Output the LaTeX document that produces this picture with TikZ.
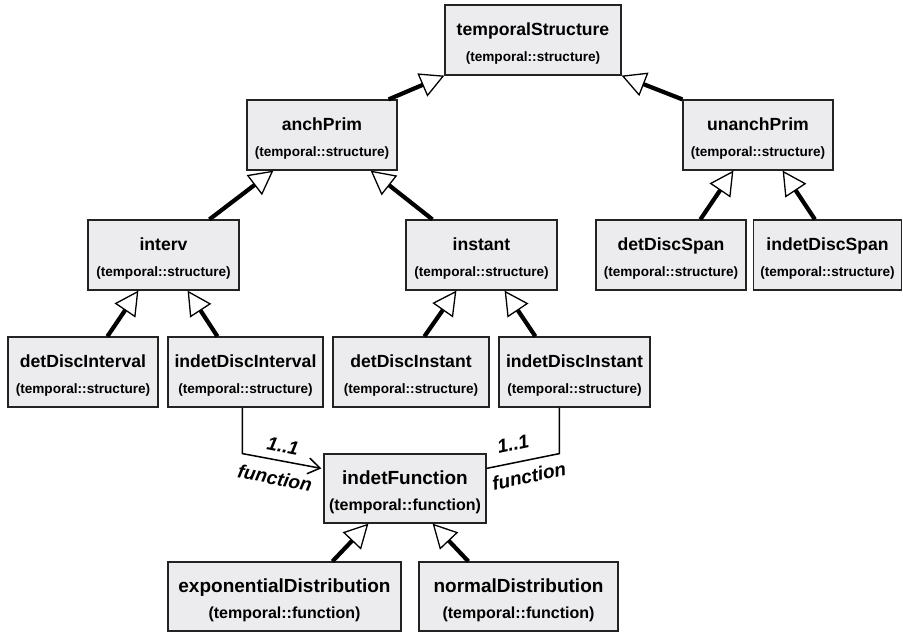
\documentclass[tikz,border=0pt]{standalone}
\usepackage{fontspec}
\setmainfont{Liberation Sans}
\usetikzlibrary{arrows.meta,calc}
\definecolor{boxfill}{RGB}{236,236,238}
\definecolor{boxline}{RGB}{35,35,35}
\newcommand{\clstext}[2]{{\fontsize{17.6}{25.5}\selectfont\rule{0pt}{20pt}#1}\\{\fontsize{13.6}{25.5}\selectfont #2}}
\newcommand{\fntext}[2]{{\fontsize{19}{26}\selectfont\rule{0pt}{21.5pt}#1}\\{\fontsize{16}{26}\selectfont #2}}
\begin{document}
\begin{tikzpicture}[x=1pt,y=-1pt,
  cls/.style={draw=boxline, fill=boxfill, line width=1.2pt, inner sep=0pt, align=center, font=\fontsize{13.6}{25.5}\selectfont\bfseries, minimum height=70pt},
  fnc/.style={cls, font=\fontsize{16}{26}\selectfont\bfseries, minimum height=69pt},
  gen/.style={draw=black, line width=4.2pt, -{Triangle[length=24pt,width=25pt,fill=white,line width=1.3pt]}},
  assoc/.style={draw=black, line width=1.5pt, line join=miter},
  assocarrow/.style={assoc, -{Straight Barb[length=12pt,width=16pt,line width=1.5pt]}},
  lbl/.style={font=\fontsize{19}{19}\selectfont\bfseries\itshape, inner sep=0pt}]
\useasboundingbox (0,0) rectangle (903,632);

% classes
\node[cls, minimum width=176pt] (ts) at (533,40) {\clstext{temporalStructure}{(temporal::structure)}};
\node[cls, minimum width=150pt] (ap) at (322,135) {\clstext{anchPrim}{(temporal::structure)}};
\node[cls, minimum width=150pt] (up) at (758,135) {\clstext{unanchPrim}{(temporal::structure)}};
\node[cls, minimum width=151pt] (iv) at (163.5,255) {\clstext{interv}{(temporal::structure)}};
\node[cls, minimum width=151pt] (in) at (481.5,255) {\clstext{instant}{(temporal::structure)}};
\node[cls, minimum width=150pt] (dds) at (671,255) {\clstext{detDiscSpan}{(temporal::structure)}};
\node[cls, minimum width=148pt] (ids) at (827.5,255) {\clstext{indetDiscSpan}{(temporal::structure)}};
\node[cls, minimum width=150pt] (ddiv) at (83,372) {\clstext{detDiscInterval}{(temporal::structure)}};
\node[cls, minimum width=155pt] (idiv) at (245.5,372) {\clstext{indetDiscInterval}{(temporal::structure)}};
\node[cls, minimum width=156pt] (ddin) at (411,372) {\clstext{detDiscInstant}{(temporal::structure)}};
\node[cls, minimum width=151pt] (idin) at (574.5,372) {\clstext{indetDiscInstant}{(temporal::structure)}};
\node[fnc, minimum width=162pt] (fn) at (405,488.5) {\fntext{indetFunction}{(temporal::function)}};
\node[fnc, minimum width=233pt] (ed) at (284.5,596.5) {\fntext{exponentialDistribution}{(temporal::function)}};
\node[fnc, minimum width=199pt] (nd) at (518.5,596.5) {\fntext{normalDistribution}{(temporal::function)}};

% generalizations
\draw[gen] ($(ap.north east)+(-9,0)$) -- (ts.south west);
\draw[gen] (up.north west) -- (ts.south east);
\draw[gen] ($(iv.north west)+(122,0)$) -- ($(ap.south west)+(27,0)$);
\draw[gen] ($(in.north west)+(27,0)$) -- ($(ap.south east)+(-27,0)$);
\draw[gen] ($(ddiv.north west)+(100,0)$) -- ($(iv.south west)+(51,0)$);
\draw[gen] ($(idiv.north west)+(50,0)$) -- ($(iv.south east)+(-52,0)$);
\draw[gen] ($(ddin.north west)+(92,0)$) -- ($(in.south west)+(51,0)$);
\draw[gen] ($(idin.north west)+(37,0)$) -- ($(in.south east)+(-53,0)$);
\draw[gen] ($(dds.north west)+(105,0)$) -- ($(up.south west)+(51,0)$);
\draw[gen] ($(ids.north west)+(62,0)$) -- ($(up.south east)+(-51,0)$);
\draw[gen] ($(ed.north west)+(165,0)$) -- ($(fn.south west)+(45,0)$);
\draw[gen] ($(nd.north west)+(50,0)$) -- ($(fn.south east)+(-54,0)$);

% associations
\coordinate (c1) at ($(idiv.south west)+(75,46)$);
\coordinate (c2) at ($(idin.south west)+(61,46)$);
\draw[assocarrow] ($(idiv.south west)+(75,0)$) -- (c1) -- ($(fn.north west)+(-2,15)$);
\draw[assoc] ($(idin.south west)+(61,0)$) -- (c2) -- ($(fn.north east)+(0,15)$);

% labels
\node[lbl, rotate=-11] (l1) at (283,446) {1..1};
\node[lbl, rotate=-11] (f1) at (275,478) {function};
\node[lbl, rotate=12] (l2) at (513,444) {1..1};
\node[lbl, rotate=12] (f2) at (529,476) {function};
\end{tikzpicture}
\end{document}
